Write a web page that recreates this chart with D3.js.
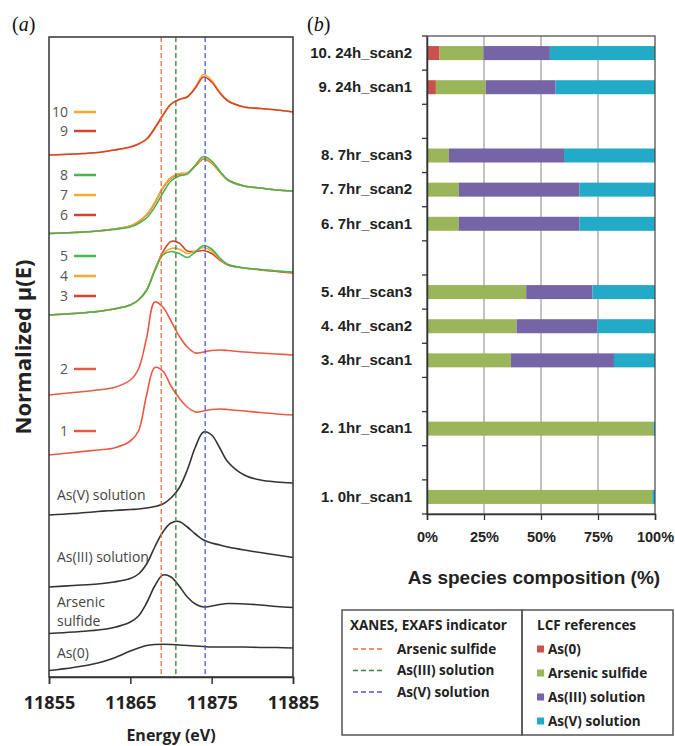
<!DOCTYPE html>
<html>
<head>
<meta charset="utf-8">
<script src="https://cdn.jsdelivr.net/npm/d3@7"></script>
<style>
body { margin: 0; background: #fff; }
svg text { font-family: "Open Sans", "Noto Sans", sans-serif; fill: #333; }
.bar-axis text, .pct-axis text, .pct-title { font-family: "Liberation Sans", Arial, sans-serif; font-weight: bold; fill: #222; }
</style>
</head>
<body>
<svg id="fig" width="675" height="746"></svg>
<script>

// XANES spectra, normalized mu(E) with stacking offset (arb. units)
var energy = [11855, 11858, 11861, 11863, 11865, 11866, 11867, 11868, 11869, 11870, 11871, 11872, 11873, 11874, 11875, 11876, 11877, 11879, 11881, 11883, 11885];

var specAs0     = [0.065, 0.095, 0.14, 0.19, 0.26, 0.29, 0.315, 0.325, 0.327, 0.325, 0.32, 0.315, 0.31, 0.305, 0.30, 0.30, 0.30, 0.30, 0.295, 0.295, 0.29];
var specSulfide = [0.435, 0.45, 0.47, 0.495, 0.55, 0.61, 0.74, 0.91, 1.02, 1.00, 0.91, 0.80, 0.73, 0.70, 0.71, 0.725, 0.735, 0.73, 0.72, 0.705, 0.695];
var specAs3     = [0.90, 0.915, 0.93, 0.95, 0.985, 1.03, 1.13, 1.30, 1.45, 1.54, 1.555, 1.50, 1.43, 1.37, 1.34, 1.32, 1.30, 1.27, 1.245, 1.22, 1.195];
var specAs5     = [1.62, 1.635, 1.655, 1.665, 1.675, 1.68, 1.69, 1.705, 1.73, 1.79, 1.89, 2.07, 2.30, 2.45, 2.42, 2.29, 2.15, 2.02, 1.97, 1.95, 1.94];
var spec1  = [2.22, 2.245, 2.27, 2.29, 2.36, 2.46, 2.82, 3.095, 3.06, 2.91, 2.79, 2.70, 2.65, 2.66, 2.675, 2.68, 2.675, 2.66, 2.645, 2.63, 2.62];
var spec2  = [2.82, 2.845, 2.87, 2.895, 2.97, 3.08, 3.39, 3.75, 3.70, 3.56, 3.41, 3.30, 3.24, 3.25, 3.265, 3.27, 3.265, 3.25, 3.24, 3.23, 3.22];
var spec3  = [3.62, 3.635, 3.655, 3.68, 3.72, 3.77, 3.87, 4.07, 4.25, 4.355, 4.34, 4.26, 4.255, 4.265, 4.235, 4.17, 4.12, 4.09, 4.07, 4.055, 4.04];
var spec4  = [3.62, 3.635, 3.655, 3.68, 3.72, 3.77, 3.87, 4.07, 4.23, 4.285, 4.28, 4.235, 4.26, 4.295, 4.26, 4.18, 4.125, 4.09, 4.075, 4.06, 4.05];
var spec5  = [3.62, 3.635, 3.655, 3.68, 3.72, 3.77, 3.865, 4.06, 4.22, 4.255, 4.235, 4.195, 4.25, 4.315, 4.28, 4.19, 4.125, 4.09, 4.075, 4.06, 4.05];
var spec6  = [4.435, 4.445, 4.46, 4.48, 4.51, 4.55, 4.62, 4.74, 4.89, 4.99, 5.03, 5.04, 5.11, 5.18, 5.14, 5.05, 4.97, 4.91, 4.89, 4.87, 4.86];
var spec7  = [4.435, 4.445, 4.46, 4.48, 4.51, 4.555, 4.625, 4.745, 4.895, 4.995, 5.035, 5.04, 5.115, 5.185, 5.145, 5.05, 4.97, 4.91, 4.89, 4.87, 4.86];
var spec8  = [4.435, 4.445, 4.46, 4.475, 4.50, 4.535, 4.59, 4.70, 4.84, 4.96, 5.01, 5.03, 5.12, 5.205, 5.16, 5.06, 4.97, 4.91, 4.89, 4.87, 4.86];
var spec9  = [5.22, 5.23, 5.245, 5.27, 5.30, 5.33, 5.38, 5.49, 5.62, 5.73, 5.775, 5.80, 5.89, 6.00, 5.95, 5.84, 5.76, 5.70, 5.685, 5.67, 5.65];
var spec10 = [5.22, 5.23, 5.245, 5.27, 5.30, 5.33, 5.375, 5.48, 5.61, 5.725, 5.775, 5.805, 5.90, 6.025, 5.965, 5.85, 5.765, 5.70, 5.685, 5.67, 5.65];

// indicator energies (eV)
var indicatorNames = ["Arsenic sulfide", "As(III) solution", "As(V) solution"];
var indicatorEnergy = [11868.8, 11870.6, 11874.2];
var energyTicks = [11855, 11865, 11875, 11885];

// LCF results (%)
var samples = ["1. 0hr_scan1", "2. 1hr_scan1", "3. 4hr_scan1", "4. 4hr_scan2", "5. 4hr_scan3",
               "6. 7hr_scan1", "7. 7hr_scan2", "8. 7hr_scan3", "9. 24h_scan1", "10. 24h_scan2"];
var fracAs0     = [0, 0, 0, 0, 0, 0, 0, 0, 3.9, 5.5];
var fracSulfide = [98.8, 99.3, 36.8, 39.3, 43.5, 14.0, 14.0, 9.6, 21.9, 19.3];
var fracAs3     = [0, 0, 45.2, 35.4, 29.1, 52.9, 52.9, 50.5, 30.6, 29.1];
var fracAs5     = [1.2, 0.7, 18.0, 25.3, 27.4, 33.1, 33.1, 39.9, 43.6, 46.1];
var refNames = ["As(0)", "Arsenic sulfide", "As(III) solution", "As(V) solution"];
var pctTicks = [0, 25, 50, 75, 100];


var svg = d3.select("#fig");

var red = "#d4432f", lightRed = "#e85a45", orange = "#f9aa2c", green = "#48b255", black = "#333";
var indicatorColors = ["#f2693a", "#3f7f2f", "#3f5fd2"];
var refColors = ["#c9524f", "#9bb55a", "#7565a6", "#22aac6"];

/* ---------- (a) XANES spectra ---------- */
var mA = {top: 37, left: 49}, wA = 244, hA = 640;
var gA = svg.append("g").attr("transform", "translate(" + mA.left + "," + mA.top + ")");

var x = d3.scaleLinear().domain([11855, 11885]).range([0, wA]);
var y = d3.scaleLinear().domain([0, 6.4]).range([hA, 0]);

var line = d3.line()
    .curve(d3.curveCatmullRom.alpha(0.5))
    .x(function(d, i) { return x(energy[i]); })
    .y(function(d) { return y(d); });

// draw order matters: later series lie on top
var spectra = [
    {v: specAs0, c: black}, {v: specSulfide, c: black}, {v: specAs3, c: black}, {v: specAs5, c: black},
    {v: spec1, c: lightRed}, {v: spec2, c: lightRed},
    {v: spec3, c: red}, {v: spec4, c: orange}, {v: spec5, c: green},
    {v: spec6, c: red}, {v: spec7, c: orange}, {v: spec8, c: green},
    {v: spec10, c: orange}, {v: spec9, c: red}
];

gA.selectAll(".spec")
    .data(spectra)
    .enter().append("path")
    .attr("class", "spec")
    .attr("d", function(d) { return line(d.v); })
    .attr("fill", "none")
    .attr("stroke", function(d) { return d.c; })
    .attr("stroke-width", 1.6);

// indicator lines
gA.selectAll(".ind")
    .data(indicatorEnergy)
    .enter().append("line")
    .attr("x1", function(d) { return x(d); })
    .attr("x2", function(d) { return x(d); })
    .attr("y1", 0)
    .attr("y2", hA)
    .attr("stroke", function(d, i) { return indicatorColors[i]; })
    .attr("stroke-width", 1.3)
    .attr("stroke-dasharray", "5,3");

// numbered keys next to curves
var keys = [
    {t: "10", c: orange, y: 5.65}, {t: "9", c: red, y: 5.46},
    {t: "8", c: green, y: 5.02}, {t: "7", c: orange, y: 4.82}, {t: "6", c: red, y: 4.62},
    {t: "5", c: green, y: 4.21}, {t: "4", c: orange, y: 4.01}, {t: "3", c: red, y: 3.81},
    {t: "2", c: lightRed, y: 3.08}, {t: "1", c: lightRed, y: 2.46}
];
var key = gA.selectAll(".key").data(keys).enter().append("g")
    .attr("transform", function(d) { return "translate(0," + y(d.y) + ")"; });
key.append("text")
    .attr("x", 19).attr("dy", "0.35em")
    .attr("text-anchor", "end")
    .style("font-size", "14px").style("fill", "#555")
    .text(function(d) { return d.t; });
key.append("line")
    .attr("x1", 25).attr("x2", 47)
    .attr("stroke", function(d) { return d.c; })
    .attr("stroke-width", 2.5);

var refLabels = [
    {t: "As(V) solution", y: 1.82}, {t: "As(III) solution", y: 1.20},
    {t: "Arsenic", y: 0.745}, {t: "sulfide", y: 0.555}, {t: "As(0)", y: 0.24}
];
gA.selectAll(".reflab").data(refLabels).enter().append("text")
    .attr("x", 8).attr("y", function(d) { return y(d.y); })
    .attr("dy", "0.35em")
    .style("font-size", "14px").style("fill", "#444")
    .text(function(d) { return d.t; });

// frame + axis
gA.append("rect")
    .attr("width", wA).attr("height", hA)
    .attr("fill", "none").attr("stroke", "#333").attr("stroke-width", 1.5);

var xAxisA = gA.append("g")
    .attr("transform", "translate(0," + hA + ")")
    .call(d3.axisBottom(x).tickValues(energyTicks).tickFormat(d3.format("d")).tickSize(7).tickPadding(12));
xAxisA.select(".domain").attr("stroke", "#333").attr("stroke-width", 1.5);
xAxisA.selectAll(".tick line").attr("stroke", "#333").attr("stroke-width", 1.5);
xAxisA.selectAll("text")
    .style("font-family", "'Open Sans', sans-serif")
    .style("font-size", "18px").style("font-weight", "bold").style("fill", "#222");

gA.append("text")
    .attr("x", wA / 2).attr("y", hA + 58)
    .attr("dy", "0.35em").attr("text-anchor", "middle")
    .style("font-size", "16px").style("font-weight", "bold").style("fill", "#222")
    .text("Energy (eV)");

svg.append("text")
    .attr("transform", "translate(31,347) rotate(-90)")
    .attr("text-anchor", "middle")
    .style("font-size", "22px").style("font-weight", "bold").style("fill", "#222")
    .text("Normalized μ(E)");

/* ---------- (b) LCF composition ---------- */
var mB = {top: 36, left: 427}, wB = 228, hB = 478;
var gB = svg.append("g").attr("transform", "translate(" + mB.left + "," + mB.top + ")");

// rows top to bottom, blanks keep the time groups apart
var rows = ["10. 24h_scan2", "9. 24h_scan1", "_a", "8. 7hr_scan3", "7. 7hr_scan2", "6. 7hr_scan1", "_b",
            "5. 4hr_scan3", "4. 4hr_scan2", "3. 4hr_scan1", "_c", "2. 1hr_scan1", "_d", "1. 0hr_scan1"];

var table = samples.map(function(s, i) {
    return {sample: s, as0: fracAs0[i], sulfide: fracSulfide[i], as3: fracAs3[i], as5: fracAs5[i]};
});
var stack = d3.stack().keys(["as0", "sulfide", "as3", "as5"])(table);

var xb = d3.scaleLinear().domain([0, 100]).range([0, wB]);
var yb = d3.scaleBand().domain(rows).range([0, hB]).paddingInner(0.59).paddingOuter(0.295);

// grid
gB.selectAll(".grid").data([25, 50, 75]).enter().append("line")
    .attr("x1", function(d) { return xb(d); }).attr("x2", function(d) { return xb(d); })
    .attr("y1", 0).attr("y2", hB)
    .attr("stroke", "#9a9a9a").attr("stroke-width", 1.2);

gB.selectAll(".layer")
    .data(stack)
    .enter().append("g")
    .attr("fill", function(d, i) { return refColors[i]; })
    .selectAll("rect")
    .data(function(d) { return d; })
    .enter().append("rect")
    .attr("x", function(d) { return xb(d[0]); })
    .attr("width", function(d) { return xb(d[1]) - xb(d[0]); })
    .attr("y", function(d) { return yb(d.data.sample); })
    .attr("height", yb.bandwidth());

gB.append("rect")
    .attr("width", wB).attr("height", hB)
    .attr("fill", "none").attr("stroke", "#444").attr("stroke-width", 1.2);

// category axis, ticks on slot boundaries
var yAxisB = gB.append("g").attr("class", "bar-axis")
    .call(d3.axisLeft(yb).tickSize(0).tickPadding(15)
        .tickFormat(function(d) { return d.charAt(0) === "_" ? "" : d; }));
yAxisB.select(".domain").attr("stroke", "#333").attr("stroke-width", 1.5);
yAxisB.selectAll("text").style("font-size", "15px");

gB.selectAll(".slot").data(d3.range(rows.length + 1)).enter().append("line")
    .attr("x1", -5).attr("x2", 0)
    .attr("y1", function(d) { return d * yb.step(); })
    .attr("y2", function(d) { return d * yb.step(); })
    .attr("stroke", "#333").attr("stroke-width", 1.3);

var xAxisB = gB.append("g").attr("class", "pct-axis")
    .attr("transform", "translate(0," + hB + ")")
    .call(d3.axisBottom(xb).tickValues(pctTicks).tickFormat(function(d) { return d + "%"; }).tickSize(6).tickPadding(12));
xAxisB.select(".domain").attr("stroke", "#333").attr("stroke-width", 1.5);
xAxisB.selectAll(".tick line").attr("stroke", "#333").attr("stroke-width", 1.3);
xAxisB.selectAll("text").style("font-size", "14.5px");

gB.append("text").attr("class", "pct-title")
    .attr("x", 107).attr("y", hB + 63)
    .attr("dy", "0.35em").attr("text-anchor", "middle")
    .style("font-size", "19px")
    .text("As species composition (%)");

/* ---------- panel letters ---------- */
svg.selectAll(".plabel").data([{t: "a", x: 12}, {t: "b", x: 307}]).enter().append("text")
    .attr("x", function(d) { return d.x; }).attr("y", 31)
    .style("font-family", "'Liberation Serif', serif").style("font-size", "20px").style("fill", "#111")
    .html(function(d) { return "(<tspan font-style='italic'>" + d.t + "</tspan>)"; });

/* ---------- legends ---------- */
var leg = svg.append("g").attr("transform", "translate(342,610)");
leg.append("rect").attr("width", 180).attr("height", 125)
    .attr("fill", "none").attr("stroke", "#555").attr("stroke-width", 1.5);
leg.append("rect").attr("x", 180).attr("width", 151).attr("height", 125)
    .attr("fill", "none").attr("stroke", "#555").attr("stroke-width", 1.5);

var legText = function(sel) {
    return sel.style("font-size", "13.5px").style("font-weight", "bold").style("fill", "#222").attr("dy", "0.35em");
};

legText(leg.append("text").attr("x", 8).attr("y", 15)).text("XANES, EXAFS indicator");
var li = leg.selectAll(".li").data(indicatorNames).enter().append("g")
    .attr("transform", function(d, i) { return "translate(0," + (39 + i * 21.5) + ")"; });
li.append("line").attr("x1", 11).attr("x2", 43)
    .attr("stroke", function(d, i) { return indicatorColors[i]; })
    .attr("stroke-width", 1.3).attr("stroke-dasharray", "5,3");
legText(li.append("text").attr("x", 55)).text(function(d) { return d; });

legText(leg.append("text").attr("x", 195).attr("y", 15)).text("LCF references");
var lr = leg.selectAll(".lr").data(refNames).enter().append("g")
    .attr("transform", function(d, i) { return "translate(195," + (39 + i * 24) + ")"; });
lr.append("rect").attr("x", 0).attr("y", -3.5).attr("width", 7).attr("height", 7)
    .attr("fill", function(d, i) { return refColors[i]; });
legText(lr.append("text").attr("x", 11)).text(function(d) { return d; });

</script>
</body>
</html>
